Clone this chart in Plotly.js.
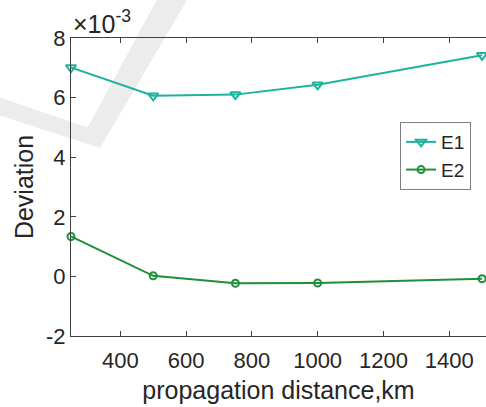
<!DOCTYPE html>
<html>
<head>
<meta charset="utf-8">
<script src="https://cdn.plot.ly/plotly-3.0.1.min.js"></script>
<style>html,body{margin:0;padding:0;background:#fff;}#chart{width:486px;height:407px;}</style>
</head>
<body>
<div id="chart"></div>
<script>
const distance = [250, 500, 750, 1000, 1500];
const e1 = [7.01, 6.06, 6.10, 6.43, 7.42];
const e2 = [1.34, 0.02, -0.23, -0.22, -0.08];
const xTicks = [400, 600, 800, 1000, 1200, 1400];
const yTicks = [-2, 0, 2, 4, 6, 8];
const yTickText = ['-2', '0', '2', '4', '6', '8'];

const font = {family: 'Liberation Sans, Arial, sans-serif', color: '#262626'};

const traces = [
  {x: distance, y: e1, name: 'E1', mode: 'lines+markers', cliponaxis: false,
   line: {color: '#1db3a0', width: 2},
   marker: {symbol: 'triangle-down-open', size: 9, color: '#1db3a0', line: {width: 2}}},
  {x: distance, y: e2, name: 'E2', mode: 'lines+markers', cliponaxis: false,
   line: {color: '#1f8f3c', width: 2},
   marker: {symbol: 'circle-open', size: 7, color: '#1f8f3c', line: {width: 2}}}
];

const layout = {
  width: 486, height: 407,
  margin: {l: 71, r: 0, t: 38, b: 71},
  paper_bgcolor: '#fff', plot_bgcolor: 'rgba(0,0,0,0)',
  font: Object.assign({size: 22}, font),
  showlegend: true,
  legend: {x: 0.793, y: 0.718, xanchor: 'left', yanchor: 'top',
           bgcolor: '#fff', bordercolor: '#808080', borderwidth: 1,
           font: Object.assign({size: 19}, font), tracegroupgap: 0},
  xaxis: {range: [250, 1512], tickvals: xTicks, ticks: 'inside', ticklen: 5,
          tickcolor: '#404040', showline: true, linecolor: '#404040', linewidth: 1,
          mirror: 'ticks', showgrid: false, zeroline: false, ticklabelstandoff: 5,
          tickfont: Object.assign({size: 22}, font),
          title: {text: 'propagation distance,km', font: Object.assign({size: 25}, font), standoff: 9}},
  yaxis: {range: [-2, 8], tickvals: yTicks, ticktext: yTickText, ticks: 'inside', ticklen: 5,
          tickcolor: '#404040', showline: true, linecolor: '#404040', linewidth: 1,
          showgrid: false, zeroline: false,
          tickfont: Object.assign({size: 22}, font),
          title: {text: 'Deviation', font: Object.assign({size: 25}, font), standoff: 5}},
  annotations: [{xref: 'paper', yref: 'paper', x: 0, y: 1, xanchor: 'left', yanchor: 'bottom',
                 text: '×10<sup>-3</sup>', showarrow: false, font: Object.assign({size: 25}, font), yshift: -2}],
  shapes: [{type: 'path', xref: 'paper', yref: 'paper', layer: 'below',
            path: 'M 0.207 1.128 L 0.280 1.128 L 0.07 0.631 L -0.171 0.74 L -0.171 0.80 L 0.04 0.70 Z',
            fillcolor: 'rgba(200,200,200,0.35)', line: {width: 0}}]
};

Plotly.newPlot('chart', traces, layout, {displayModeBar: false, staticPlot: true});
</script>
</body>
</html>
